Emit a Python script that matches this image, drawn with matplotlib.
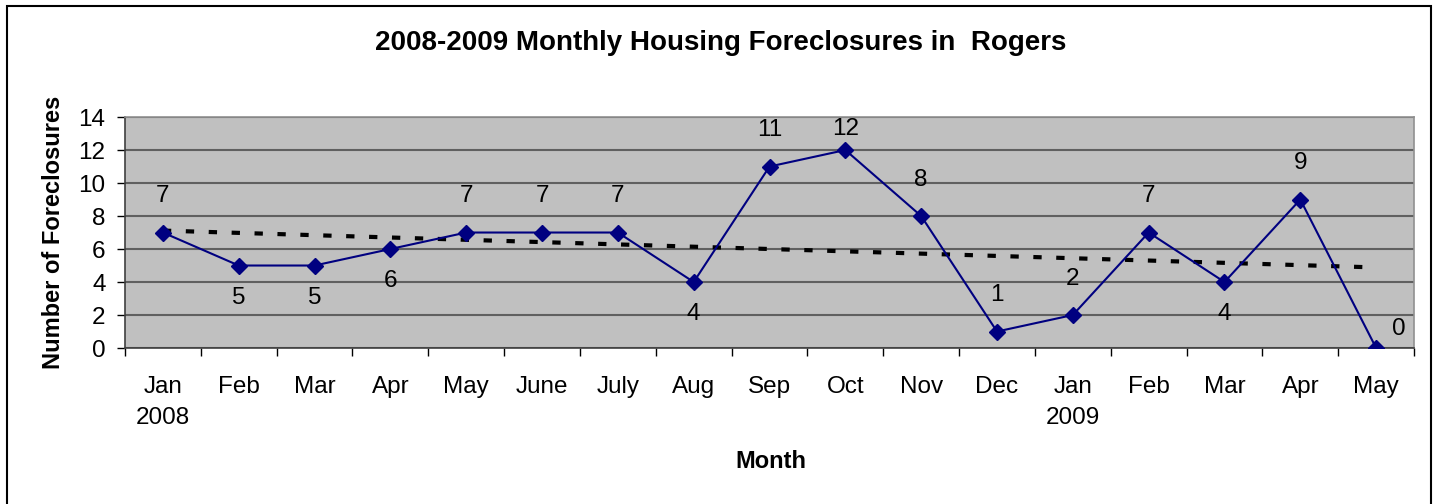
import matplotlib
matplotlib.use("Agg")
import matplotlib.pyplot as plt
from matplotlib.patches import Rectangle
import numpy as np

plt.rcParams['font.family'] = ['Liberation Sans', 'DejaVu Sans']

# data
months = ['Jan\n2008', 'Feb', 'Mar', 'Apr', 'May', 'June', 'July', 'Aug', 'Sep',
          'Oct', 'Nov', 'Dec', 'Jan\n2009', 'Feb', 'Mar', 'Apr', 'May']
foreclosures = [7, 5, 5, 6, 7, 7, 7, 4, 11, 12, 8, 1, 2, 7, 4, 9, 0]
# label placement: 1 above, -1 below, 0 to the right
label_side = [1, -1, -1, -1, 1, 1, 1, -1, 1, 1, 1, 1, 1, 1, -1, 1, 0]
y_ticks = [0, 2, 4, 6, 8, 10, 12, 14]

x = np.arange(len(months))

fig = plt.figure(figsize=(14.35, 5.04), dpi=100)
ax = fig.add_axes([0.0871, 0.3095, 0.8983, 0.4583])
ax.set_facecolor('#C0C0C0')

# linear trend line (as in the original spreadsheet chart)
coef = np.polyfit(x, foreclosures, 1)
trend = np.polyval(coef, x)
ax.plot(x, trend, color='black', linestyle=(0, (2.0, 3.5)), linewidth=3,
        dash_capstyle='butt', zorder=3)

ax.plot(x, foreclosures, color='#000080', linewidth=1.5, marker='D',
        markersize=8.5, markerfacecolor='#000080', markeredgecolor='#000080', zorder=4)

# data labels, kept inside the plot area like the spreadsheet does
for xi, yi, side in zip(x, foreclosures, label_side):
    if side == 1:
        pos = (xi, min(yi + 2.2, 13.3))
    elif side == -1:
        pos = (xi, yi - 1.95)
    else:
        pos = (xi + 0.3, yi + 1.15)
    ax.text(pos[0], pos[1], str(yi), ha='center', va='center', fontsize=17.5)

ax.set_xlim(-0.5, len(months) - 0.5)
ax.set_ylim(0, 14)
ax.set_yticks(y_ticks)
ax.yaxis.grid(True, color='#606060', linewidth=1.5)
ax.set_axisbelow(True)

ax.set_xticks(np.arange(len(months) + 1) - 0.5)
ax.set_xticklabels([])
ax.set_xticks(x, minor=True)
ax.set_xticklabels(months, minor=True, fontsize=17.5, linespacing=1.55)
ax.tick_params(axis='x', which='major', length=6, width=1, color='black', direction='out')
ax.tick_params(axis='x', which='minor', length=0, pad=20)
ax.tick_params(axis='y', length=6, width=1, direction='out', labelsize=17.5, pad=8)

for s in ['left', 'bottom']:
    ax.spines[s].set_color('#404040')
    ax.spines[s].set_linewidth(1.2)
for s in ['top', 'right']:
    ax.spines[s].set_color('#909090')
    ax.spines[s].set_linewidth(1.2)

ax.set_ylabel('Number of Foreclosures', fontsize=17, fontweight='bold', labelpad=10)
fig.text(0.537, 0.085, 'Month', fontsize=17, fontweight='bold', ha='center', va='center')
fig.text(0.502, 0.915, '2008-2009 Monthly Housing Foreclosures in  Rogers',
         fontsize=20, fontweight='bold', ha='center', va='center')

# outer chart border
fig.patches.append(Rectangle((7 / 1435, -0.05), (1431 - 7) / 1435, 1.05 - 6 / 504,
                             transform=fig.transFigure, fill=False,
                             edgecolor='black', linewidth=1.5))

fig.savefig('out.png', dpi=100)
